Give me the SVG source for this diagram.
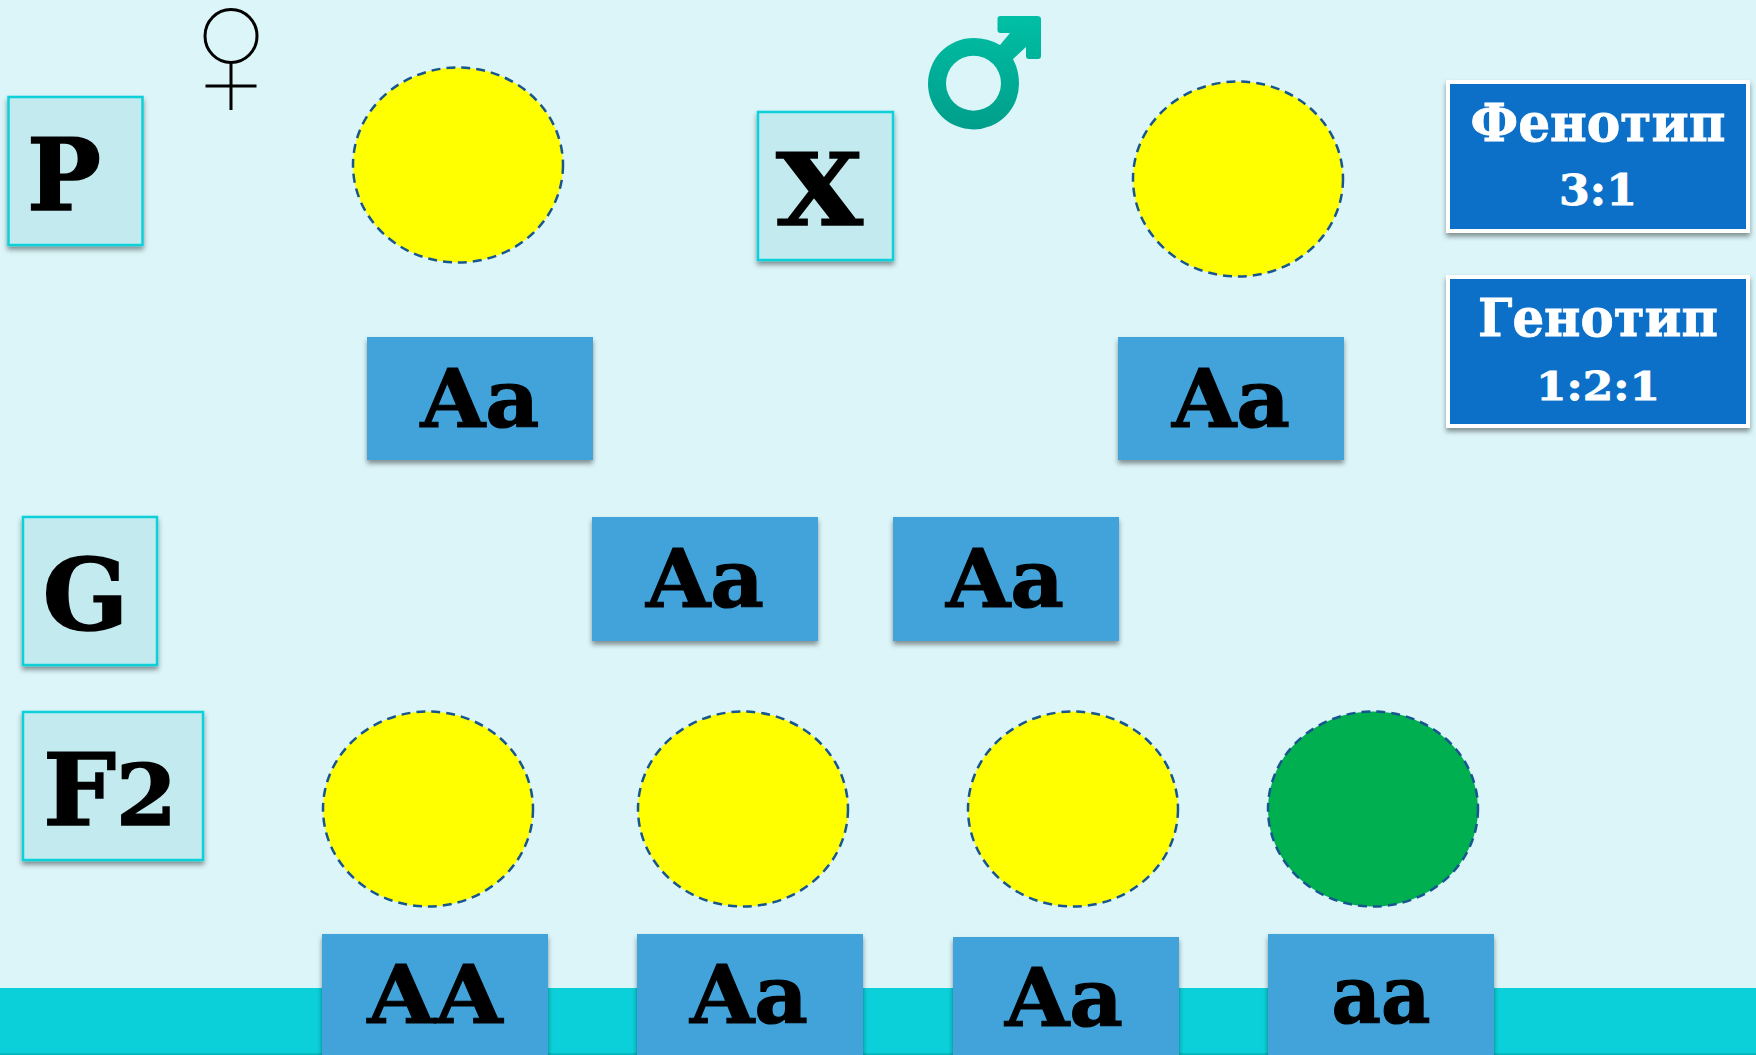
<svg xmlns="http://www.w3.org/2000/svg" width="1756" height="1055" viewBox="0 0 1756 1055">
<style>
.t{font-family:"DejaVu Serif","Liberation Serif",serif;font-weight:700;fill:#000;stroke:#000;stroke-width:1.200;text-anchor:middle}
.big{font-size:100px;stroke-width:1.500}
.gt{font-size:81px}
.w{font-family:"DejaVu Serif","Liberation Serif",serif;font-weight:700;fill:#fff;stroke:#fff;stroke-width:.8;text-anchor:middle}
.lab{fill:#c3ebef;stroke:#0bd0d9;stroke-width:2.5;filter:url(#s)}
.g{fill:#42a3db;filter:url(#s)}
.d{fill:#1170c8;stroke:#fff;stroke-width:4;filter:url(#s)}
.y{fill:#ffff00;stroke:#17568f;stroke-width:2.5;stroke-dasharray:9 6}
.gr{fill:#00b050;stroke:#17568f;stroke-width:2.5;stroke-dasharray:9 6}
</style>
<defs>
<filter id="s" x="-10%" y="-10%" width="120%" height="125%"><feDropShadow dx="0" dy="3.500" stdDeviation="2.500" flood-color="#000" flood-opacity="0.42"/></filter>
<linearGradient id="m" x1="0" y1="0" x2="0" y2="1"><stop offset="0" stop-color="#00bfa5"/><stop offset="1" stop-color="#009e8a"/></linearGradient>
</defs>
<rect width="1756" height="1055" fill="#dbf5f9"/>
<g id="band"><rect x="0" y="988" width="1756" height="67" fill="#0bd0d9"/><rect x="0" y="1053" width="1756" height="2" fill="#08b8c0"/></g>

<g id="female" fill="none" stroke="#000" stroke-width="3"><ellipse cx="231" cy="36" rx="26" ry="26.500"/><path d="M231 62V110M205.500 86H256.500"/></g>
<g id="male"><path fill="url(#m)" fill-rule="evenodd" d="M997.500 19Q997.500 16 1000.500 16H1037Q1041 16 1041 19V56Q1041 59 1038 59H1029Q1026 59 1026 56V47L1013 59Q1019 70 1019 84A45.500 45.700 0 1 1 973.500 38Q988 38 1000 45L1010 33H1000.500Q997.500 33 997.500 30ZM973.500 55.700A27.500 27.500 0 1 0 973.500 110.700A27.500 27.500 0 1 0 973.500 55.700Z"/></g>

<g id="label-p"><rect class="lab" x="8.500" y="97" width="134" height="148"/><text class="t big" x="64" y="209.500" textLength="74" lengthAdjust="spacingAndGlyphs">P</text></g>
<g id="label-x"><rect class="lab" x="758" y="112" width="135" height="148"/><text class="t big" x="819.500" y="224.500" textLength="87" lengthAdjust="spacingAndGlyphs">X</text></g>
<g id="label-g"><rect class="lab" x="23" y="517" width="134" height="148"/><text class="t big" x="85.500" y="630" textLength="86" lengthAdjust="spacingAndGlyphs">G</text></g>
<g id="label-f2"><rect class="lab" x="23" y="712" width="180" height="148"/><text class="t big" x="110" y="824.500" textLength="134" lengthAdjust="spacingAndGlyphs">F<tspan font-size="85">2</tspan></text></g>

<g id="parent-female"><ellipse class="y" cx="458" cy="165" rx="105" ry="97.500"/></g>
<g id="parent-male"><ellipse class="y" cx="1238" cy="179" rx="105" ry="97.500"/></g>
<g id="f2-1"><ellipse class="y" cx="428" cy="809" rx="105" ry="97.500"/></g>
<g id="f2-2"><ellipse class="y" cx="743" cy="809" rx="105" ry="97.500"/></g>
<g id="f2-3"><ellipse class="y" cx="1073" cy="809" rx="105" ry="97.500"/></g>
<g id="f2-4"><ellipse class="gr" cx="1373" cy="809" rx="105" ry="97.500"/></g>

<g id="geno-p1"><rect class="g" x="367" y="337" width="226" height="123"/><text class="t gt" x="480" y="427" textLength="119" lengthAdjust="spacingAndGlyphs">Aa</text></g>
<g id="geno-p2"><rect class="g" x="1118" y="337" width="226" height="123"/><text class="t gt" x="1231" y="427" textLength="118" lengthAdjust="spacingAndGlyphs">Aa</text></g>
<g id="gamete-1"><rect class="g" x="592" y="517" width="226" height="124"/><text class="t gt" x="705" y="607" textLength="118" lengthAdjust="spacingAndGlyphs">Aa</text></g>
<g id="gamete-2"><rect class="g" x="893" y="517" width="226" height="124"/><text class="t gt" x="1005" y="607" textLength="118" lengthAdjust="spacingAndGlyphs">Aa</text></g>
<g id="geno-f1"><rect class="g" x="322" y="934" width="226" height="125"/><text class="t gt" x="435" y="1023" textLength="135" lengthAdjust="spacingAndGlyphs">AA</text></g>
<g id="geno-f2"><rect class="g" x="637" y="934" width="226" height="125"/><text class="t gt" x="749" y="1023" textLength="118" lengthAdjust="spacingAndGlyphs">Aa</text></g>
<g id="geno-f3"><rect class="g" x="953" y="937" width="226" height="122"/><text class="t gt" x="1064" y="1026" textLength="118" lengthAdjust="spacingAndGlyphs">Aa</text></g>
<g id="geno-f4"><rect class="g" x="1268" y="934" width="226" height="125"/><text class="t gt" x="1381" y="1023" textLength="99" lengthAdjust="spacingAndGlyphs">aa</text></g>

<g id="phenotype"><rect class="d" x="1448" y="82" width="300" height="149"/><text class="w" x="1598" y="141" font-size="52" textLength="255" lengthAdjust="spacingAndGlyphs">Фенотип</text><text class="w" x="1598" y="205" font-size="42" textLength="78" lengthAdjust="spacingAndGlyphs">3:1</text></g>
<g id="genotype"><rect class="d" x="1448" y="277" width="300" height="149"/><text class="w" x="1598" y="336" font-size="52" textLength="240" lengthAdjust="spacingAndGlyphs">Генотип</text><text class="w" x="1598" y="400" font-size="40" textLength="124" lengthAdjust="spacingAndGlyphs">1:2:1</text></g>
</svg>
